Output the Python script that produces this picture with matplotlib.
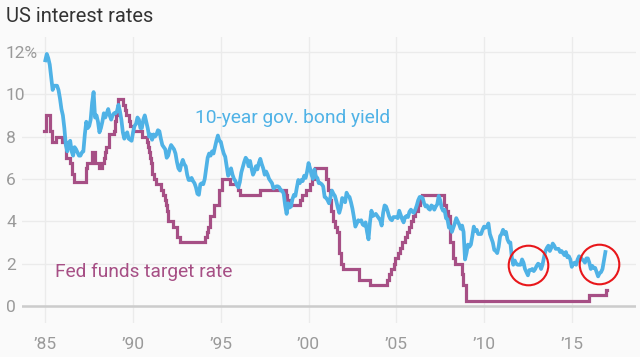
import numpy as np
import matplotlib
matplotlib.use("Agg")
import matplotlib.pyplot as plt

# ---------------- data ----------------
start_year = 1985
bond_yield = [
    11.6, 11.9, 11.7, 11.4, 10.8, 10.2, 10.4, 10.4, 10.4, 10.2, 9.8, 9.3,   # 1985
    9.0, 8.4, 7.6, 7.3, 7.7, 7.8, 7.3, 7.1, 7.5, 7.4, 7.25, 7.1,            # 1986
    7.1, 7.25, 7.3, 8.1, 8.7, 8.4, 8.5, 8.8, 9.6, 10.1, 8.9, 9.0,           # 1987
    8.7, 8.2, 8.4, 8.7, 9.1, 8.9, 9.1, 9.3, 9.0, 8.8, 9.0, 9.1,             # 1988
    9.1, 9.2, 9.5, 9.2, 8.8, 8.2, 7.9, 8.1, 8.2, 7.9, 7.85, 7.8,            # 1989
    8.2, 8.5, 8.6, 8.9, 8.8, 8.4, 8.4, 8.8, 9.0, 8.7, 8.4, 8.0,             # 1990
    8.1, 7.85, 8.1, 8.0, 8.1, 8.3, 8.25, 7.9, 7.6, 7.5, 7.4, 7.0,           # 1991
    7.1, 7.4, 7.6, 7.5, 7.4, 7.2, 6.8, 6.5, 6.4, 6.7, 6.9, 6.7,             # 1992
    6.6, 6.2, 5.95, 5.95, 6.05, 5.9, 5.8, 5.6, 5.3, 5.25, 5.75, 5.8,        # 1993
    5.75, 6.0, 6.5, 7.0, 7.2, 7.1, 7.3, 7.2, 7.5, 7.8, 8.05, 7.8,           # 1994
    7.75, 7.45, 7.2, 7.05, 6.6, 6.15, 6.3, 6.5, 6.2, 6.0, 5.9, 5.7,         # 1995
    5.6, 5.85, 6.3, 6.55, 6.8, 7.0, 6.9, 6.6, 6.85, 6.5, 6.2, 6.35,         # 1996
    6.6, 6.45, 6.75, 6.95, 6.7, 6.5, 6.2, 6.35, 6.2, 6.0, 5.9, 5.8,         # 1997
    5.55, 5.6, 5.65, 5.65, 5.6, 5.45, 5.45, 5.3, 4.75, 4.35, 4.85, 4.65,    # 1998
    4.7, 5.05, 5.25, 5.2, 5.6, 5.95, 5.8, 5.95, 5.9, 6.15, 6.05, 6.35,      # 1999
    6.75, 6.5, 6.2, 6.0, 6.45, 6.1, 6.05, 5.8, 5.8, 5.75, 5.65, 5.15,       # 2000
    5.1, 5.0, 4.85, 5.15, 5.45, 5.3, 5.2, 4.95, 4.65, 4.4, 4.65, 5.1,       # 2001
    5.05, 4.9, 5.35, 5.2, 5.15, 4.9, 4.6, 4.2, 3.75, 3.9, 4.05, 4.0,        # 2002
    4.05, 3.85, 3.8, 3.95, 3.5, 3.15, 3.95, 4.5, 4.25, 4.3, 4.35, 4.25,     # 2003
    4.15, 4.05, 3.8, 4.4, 4.75, 4.7, 4.5, 4.25, 4.1, 4.05, 4.2, 4.2,        # 2004
    4.2, 4.15, 4.5, 4.3, 4.1, 3.95, 4.2, 4.25, 4.2, 4.45, 4.55, 4.45,       # 2005
    4.4, 4.55, 4.75, 5.0, 5.15, 5.15, 5.1, 4.85, 4.7, 4.75, 4.6, 4.55,      # 2006
    4.75, 4.7, 4.55, 4.7, 4.8, 5.2, 5.0, 4.65, 4.5, 4.55, 4.15, 4.1,        # 2007
    3.7, 3.75, 3.5, 3.7, 3.9, 4.15, 4.0, 3.85, 3.65, 3.8, 3.5, 2.2,         # 2008
    2.5, 2.9, 2.8, 2.9, 3.3, 3.75, 3.55, 3.6, 3.4, 3.4, 3.4, 3.6,           # 2009
    3.75, 3.7, 3.75, 3.9, 3.4, 3.2, 3.0, 2.65, 2.6, 2.5, 2.8, 3.3,          # 2010
    3.4, 3.6, 3.4, 3.5, 3.15, 3.0, 3.0, 2.3, 1.95, 2.15, 2.0, 1.95,         # 2011
    1.95, 1.95, 2.2, 2.05, 1.75, 1.6, 1.45, 1.7, 1.7, 1.75, 1.65, 1.75,     # 2012
    1.9, 2.0, 1.95, 1.75, 1.95, 2.3, 2.6, 2.75, 2.85, 2.6, 2.75, 2.95,      # 2013
    2.85, 2.7, 2.7, 2.7, 2.55, 2.6, 2.5, 2.4, 2.55, 2.3, 2.35, 2.2,         # 2014
    1.85, 2.0, 2.05, 1.95, 2.2, 2.35, 2.3, 2.2, 2.15, 2.05, 2.25, 2.25,     # 2015
    2.05, 1.75, 1.9, 1.8, 1.8, 1.6, 1.4, 1.55, 1.6, 1.75, 2.15, 2.55,       # 2016
]

# Fed funds target: (date as decimal year, new level)
fed_dates = [1984.93, 1985.06, 1985.25, 1985.38, 1985.59, 1985.97, 1986.16,
             1986.40, 1986.53, 1986.64, 1987.32, 1987.40, 1987.68, 1987.81,
             1987.85, 1988.08, 1988.25, 1988.36, 1988.40, 1988.48, 1988.60,
             1988.90, 1988.97, 1989.01, 1989.15, 1989.43, 1989.52, 1989.57,
             1989.79, 1989.85, 1989.97, 1990.53, 1990.82, 1990.87, 1990.93,
             1990.96, 1991.02, 1991.08, 1991.18, 1991.33, 1991.60, 1991.70,
             1991.83, 1991.85, 1991.93, 1991.97, 1992.27, 1992.50, 1992.68,
             1994.09, 1994.22, 1994.29, 1994.37, 1994.62, 1994.87, 1995.08,
             1995.51, 1995.97, 1996.08, 1997.23, 1998.74, 1998.79, 1998.88,
             1999.49, 1999.64, 1999.87, 2000.09, 2000.22, 2000.37, 2001.01,
             2001.08, 2001.21, 2001.30, 2001.37, 2001.49, 2001.64, 2001.71,
             2001.75, 2001.85, 2001.94, 2002.85, 2003.48, 2004.49, 2004.61,
             2004.72, 2004.86, 2004.95, 2005.09, 2005.22, 2005.34, 2005.49,
             2005.61, 2005.72, 2005.83, 2005.95, 2006.08, 2006.24, 2006.36,
             2006.49, 2007.71, 2007.83, 2007.94, 2008.06, 2008.08, 2008.21,
             2008.33, 2008.77, 2008.82, 2008.96, 2015.96, 2016.95, 2016.98]
fed_rate = [8.25, 9.0, 8.25, 7.75, 8.0, 7.75, 7.0,
            6.75, 6.25, 5.875, 6.5, 6.75, 7.25, 7.0,
            6.75, 6.5, 6.75, 7.0, 7.25, 7.5, 8.125,
            8.25, 8.75, 9.0, 9.75, 9.5, 9.25, 9.0,
            8.75, 8.5, 8.25, 8.0, 7.75, 7.5, 7.25,
            7.0, 6.75, 6.25, 6.0, 5.75, 5.5, 5.25,
            5.0, 4.75, 4.5, 4.0, 3.75, 3.25, 3.0,
            3.25, 3.5, 3.75, 4.25, 4.75, 5.5, 6.0,
            5.75, 5.5, 5.25, 5.5, 5.25, 5.0, 4.75,
            5.0, 5.25, 5.5, 5.75, 6.0, 6.5, 6.0,
            5.5, 5.0, 4.5, 4.0, 3.75, 3.5, 3.0,
            2.5, 2.0, 1.75, 1.25, 1.0, 1.25, 1.5,
            1.75, 2.0, 2.25, 2.5, 2.75, 3.0, 3.25,
            3.5, 3.75, 4.0, 4.25, 4.5, 4.75, 5.0,
            5.25, 4.75, 4.5, 4.25, 3.5, 3.0, 2.25,
            2.0, 1.5, 1.0, 0.25, 0.5, 0.75, 0.75]

highlight_x = [2012.5, 2016.56]
highlight_y = [1.92, 1.98]

x_ticks = [1985, 1990, 1995, 2000, 2005, 2010, 2015]
x_tick_labels = ["\u201985", "\u201990", "\u201995", "\u201900", "\u201905", "\u201910", "\u201915"]
y_ticks = [0, 2, 4, 6, 8, 10, 12]
y_tick_labels = ["0", "2", "4", "6", "8", "10", "12%"]

title = "US interest rates"
bond_label = "10-year gov. bond yield"
fed_label = "Fed funds target rate"

# ---------------- style ----------------
BG = "#fafafa"
BLUE = "#4fb2e6"
PURPLE = "#a64f85"
GRID = "#ebebeb"
TICK = "#9a9a9a"
FONT = ["Roboto", "DejaVu Sans"]

plt.rcParams["font.family"] = FONT

fig = plt.figure(figsize=(6.4, 3.57), dpi=100, facecolor=BG)
ax = fig.add_axes([22 / 640, 34 / 357, 614 / 640, 286 / 357], facecolor=BG)

t_bond = start_year + np.arange(len(bond_yield)) / 12.0
ax.step(fed_dates, fed_rate, where="post", color=PURPLE, lw=2.3,
        solid_joinstyle="miter", zorder=3)
ax.plot(t_bond, bond_yield, color=BLUE, lw=2.7, zorder=4,
        solid_joinstyle="round")

ax.plot(highlight_x, highlight_y, linestyle="none", marker="o",
        markersize=28.5, markerfacecolor="none", markeredgecolor="#e8171b",
        markeredgewidth=1.5, zorder=5)

ax.set_xlim(1983.67, 2018.66)
ax.set_ylim(-0.8, 12.7)

ax.set_xticks(x_ticks)
ax.set_xticklabels(x_tick_labels)
ax.set_yticks(y_ticks)
ax.set_yticklabels(y_tick_labels)

ax.grid(True, color=GRID, lw=1.0, zorder=0)
ax.set_axisbelow(True)
ax.axhline(0, color="#cccccc", lw=1.8, zorder=2)

for s in ax.spines.values():
    s.set_visible(False)

ax.tick_params(axis="both", length=0, colors=TICK, labelsize=12.5)
ax.tick_params(axis="y", pad=11.5)
ax.tick_params(axis="x", pad=10)
for lab in ax.get_yticklabels():
    lab.set_horizontalalignment("left")

fig.text(6 / 640, 1 - 17 / 357, title, ha="left", va="center",
         fontsize=14.5, color="#333333")

ax.text(1993.54, 8.65, bond_label, color=BLUE, fontsize=13.8,
        ha="left", va="baseline")
ax.text(1985.55, 1.39, fed_label, color=PURPLE, fontsize=13.8,
        ha="left", va="baseline")

fig.savefig("out.png", dpi=100, facecolor=BG)
